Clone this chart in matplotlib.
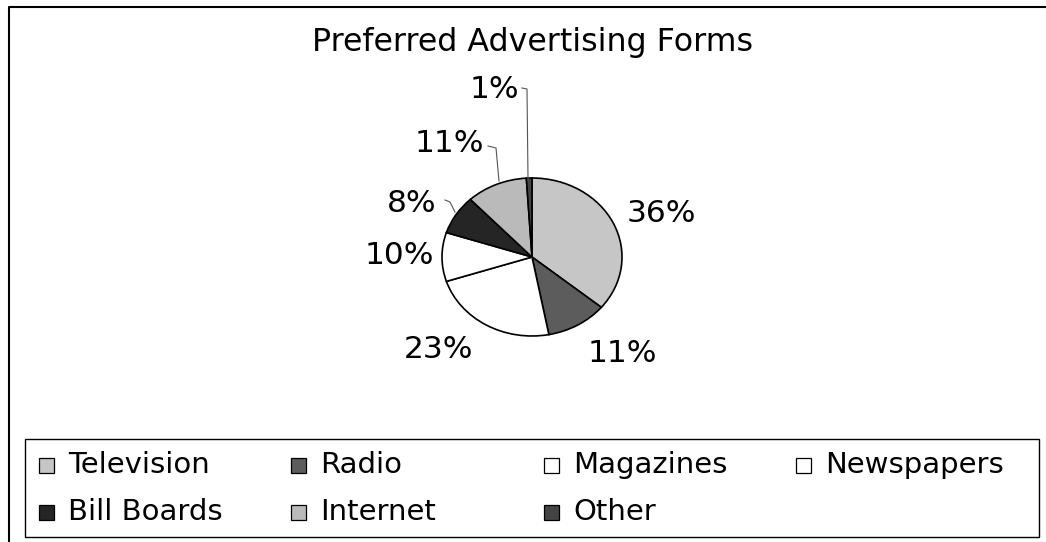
import matplotlib
matplotlib.use("Agg")
import matplotlib.pyplot as plt
from matplotlib.patches import Rectangle
from matplotlib.lines import Line2D
from matplotlib.transforms import Affine2D

plt.rcParams["font.family"] = ["DejaVu Sans"]

categories = ["Television", "Radio", "Magazines", "Newspapers",
              "Bill Boards", "Internet", "Other"]
shares = [36, 11, 23, 10, 8, 11, 1]
colors = ["#c6c6c6", "#5c5c5c", "#ffffff", "#ffffff",
          "#252525", "#bababa", "#444444"]

# label spots (px from top-left of the 1046x542 canvas)
label_xy = [(661, 214), (622, 354), (439, 350), (399, 256),
            (412, 203), (449, 144), (494, 89)]
# leader lines for the small slices (px)
leaders = [
    [(445, 200), (450, 202), (455, 212)],
    [(488, 146), (496, 148), (499, 181)],
    [(522, 88), (527, 89), (528, 179)],
]

W, H = 1046, 542
fig = plt.figure(figsize=(W / 100, H / 100), dpi=100)
px = Affine2D().scale(1 / W, -1 / H).translate(0, 1) + fig.transFigure

# pie (slightly squashed, as in the scan)
cx, cy, rx, ry = 532, 257, 90, 79
ax = fig.add_axes([(cx - 2.5 * rx) / W, (H - cy - 2.5 * ry) / H,
                   5 * rx / W, 5 * ry / H])
ax.pie(shares, colors=colors, startangle=90, counterclock=False,
       wedgeprops=dict(edgecolor="black", linewidth=1.2))
ax.set_aspect("auto")
ax.set_xlim(-2.5, 2.5)
ax.set_ylim(-2.5, 2.5)
ax.axis("off")

for v, (x, y) in zip(shares, label_xy):
    fig.text(x, y, f"{v}%", transform=px, ha="center", va="center",
             fontsize=22.5)

for pts in leaders:
    xs, ys = zip(*pts)
    fig.add_artist(Line2D(xs, ys, transform=px, color="#555555", lw=0.8))

fig.text(533, 42, "Preferred Advertising Forms", transform=px,
         ha="center", va="center", fontsize=22.8)

# outer chart frame (left and top visible)
fig.add_artist(Line2D([9, 9, 1046], [542, 7, 7], transform=px,
                      color="black", lw=1.5))

# legend box
fig.add_artist(Rectangle((25, 439), 1014, 98, transform=px, fill=False,
                         edgecolor="black", lw=1.0))
for i, (name, c) in enumerate(zip(categories, colors)):
    col, row = i % 4, i // 4
    mx = 46 + col * 252.5
    my = 465 + row * 47
    fig.add_artist(Rectangle((mx - 7.5, my - 7.5), 15, 15, transform=px,
                             facecolor=c, edgecolor="black", lw=0.9))
    fig.text(mx + 22, my, name, transform=px, ha="left", va="center",
             fontsize=21)

fig.savefig("out.png", dpi=100, facecolor="white")
